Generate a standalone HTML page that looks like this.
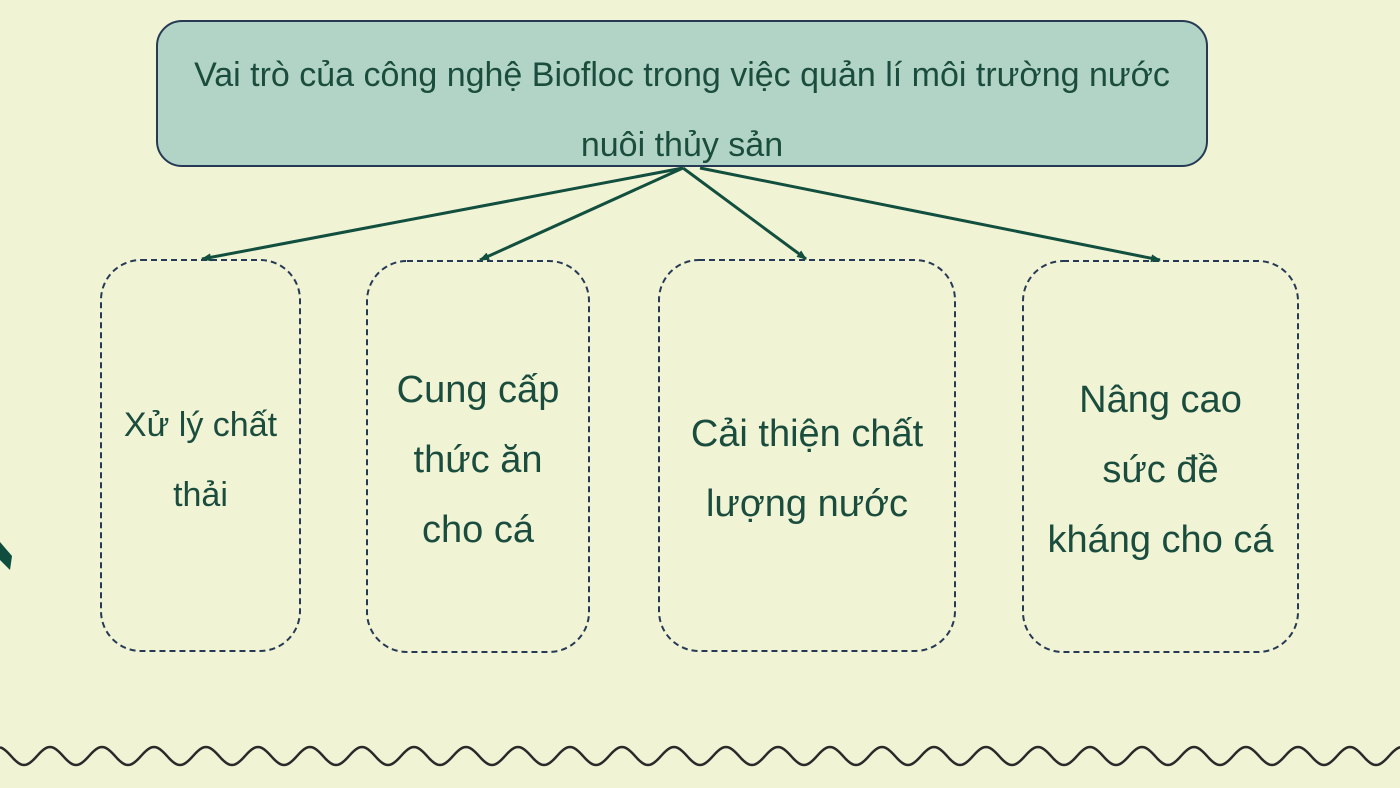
<!DOCTYPE html>
<html><head><meta charset="utf-8"><style>
html,body{margin:0;padding:0}
body{width:1400px;height:788px;background:#f1f3d5;overflow:hidden;position:relative;font-family:"Liberation Sans",sans-serif}
svg{position:absolute;left:0;top:0}
.t{position:absolute;text-align:center;color:#1b4d3e}
</style></head><body>
<svg width="1400" height="788" viewBox="0 0 1400 788">
<defs><marker id="a" markerWidth="10" markerHeight="8" refX="9" refY="4" orient="auto" markerUnits="userSpaceOnUse"><path d="M0,0 L10,4 L0,8 Z" fill="#124f3e"/></marker></defs>
<rect x="157" y="21" width="1050" height="145" rx="25" fill="#b2d4c6" stroke="#263a55" stroke-width="2"/>
<g fill="none" stroke="#263a55" stroke-width="2" stroke-dasharray="6,4">
<rect x="101" y="260" width="199" height="391" rx="40"/>
<rect x="367" y="261" width="222" height="391" rx="40"/>
<rect x="659" y="260" width="296" height="391" rx="40"/>
<rect x="1023" y="261" width="275" height="391" rx="40"/>
</g>
<g stroke="#124f3e" stroke-width="3" marker-end="url(#a)">
<line x1="683" y1="168" x2="202" y2="259"/>
<line x1="683" y1="168" x2="480" y2="260"/>
<line x1="683" y1="168" x2="806" y2="259"/>
<line x1="700" y1="168" x2="1160" y2="260"/>
</g>
<path d="M0,542 L12,556 L10,570 L0,560 Z" fill="#0f4d3e"/>
<path id="w" fill="none" stroke="#2a2a2a" stroke-width="2.5"/>
</svg>
<div class="t" style="left:140px;top:40px;width:1084px;font-size:34px;line-height:70px">Vai trò của công nghệ Biofloc trong việc quản lí môi trường nước<br>nuôi thủy sản</div>
<div class="t" style="left:91px;top:390px;width:219px;font-size:34px;line-height:70px">Xử lý chất<br>thải</div>
<div class="t" style="left:357px;top:355px;width:242px;font-size:38px;line-height:70px">Cung cấp<br>thức ăn<br>cho cá</div>
<div class="t" style="left:649px;top:399px;width:316px;font-size:38px;line-height:70px">Cải thiện chất<br>lượng nước</div>
<div class="t" style="left:1003px;top:365px;width:315px;font-size:38px;line-height:70px">Nâng cao<br>sức đề<br>kháng cho cá</div>
<script>
var d="",i;
for(i=0;i<=1410;i+=2){var y=756-9*Math.cos(2*Math.PI*(i-50)/52);d+=(i?" L ":"M ")+i+" "+y.toFixed(2);}
document.getElementById("w").setAttribute("d",d);
</script>
</body></html>
